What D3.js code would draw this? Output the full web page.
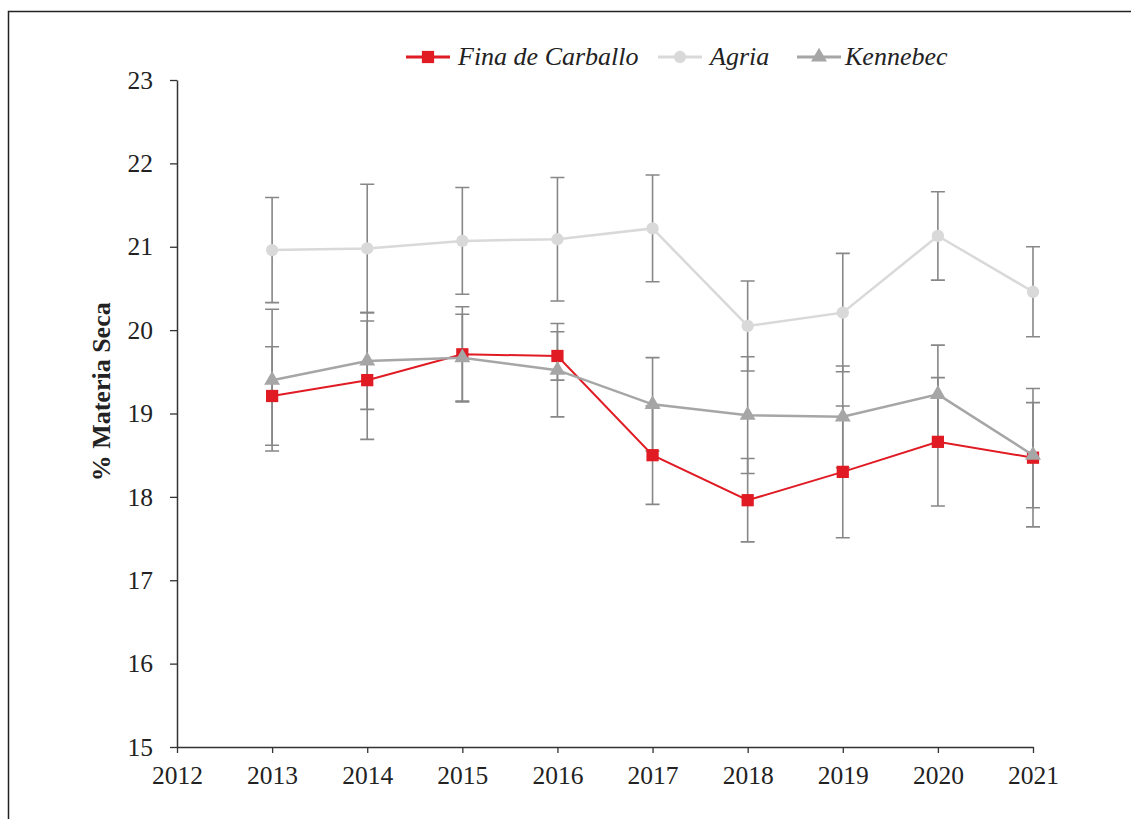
<!DOCTYPE html>
<html>
<head>
<meta charset="utf-8">
<script src="https://cdn.jsdelivr.net/npm/d3@7"></script>
<style>
  body { margin: 0; background: #fff; }
  svg text { font-family: "Liberation Serif", "Times New Roman", serif; fill: #222; }
</style>
</head>
<body>
<div id="chart"></div>
<script>
// years and tick labels
const years = [2013, 2014, 2015, 2016, 2017, 2018, 2019, 2020, 2021];
const xTicks = [2012, 2013, 2014, 2015, 2016, 2017, 2018, 2019, 2020, 2021];
const yTicks = [15, 16, 17, 18, 19, 20, 21, 22, 23];

// % materia seca, mean and sd
const finaMean = [19.21, 19.40, 19.71, 19.69, 18.50, 17.96, 18.30, 18.66, 18.47];
const finaSd   = [0.59, 0.71, 0.57, 0.29, 0.59, 0.50, 0.79, 0.77, 0.83];
const agriaMean = [20.96, 20.98, 21.07, 21.09, 21.22, 20.05, 20.21, 21.13, 20.46];
const agriaSd   = [0.63, 0.77, 0.64, 0.74, 0.64, 0.54, 0.71, 0.53, 0.54];
const kenMean = [19.40, 19.63, 19.67, 19.52, 19.11, 18.98, 18.96, 19.23, 18.50];
const kenSd   = [0.85, 0.58, 0.52, 0.56, 0.56, 0.70, 0.61, 0.59, 0.63];

const series = [
  { name: "Fina de Carballo", mean: finaMean, sd: finaSd, color: "#e01b24", width: 2, shape: d3.symbolSquare, size: 150 },
  { name: "Agria", mean: agriaMean, sd: agriaSd, color: "#d9d9d9", width: 2.5, shape: d3.symbolCircle, size: 120 },
  { name: "Kennebec", mean: kenMean, sd: kenSd, color: "#a6a6a6", width: 2.5, shape: d3.symbolTriangle, size: 110 }
];

const W = 1131, H = 819;
const margin = { top: 80, right: 98, bottom: 72, left: 177 };

const svg = d3.select("#chart").append("svg")
  .attr("width", W).attr("height", H);

// frame (left + top only)
svg.append("path")
  .attr("d", `M8.5,${H} V11.5 H${W}`)
  .attr("fill", "none").attr("stroke", "#222").attr("stroke-width", 1.5);

const x = d3.scaleLinear().domain([2012, 2021]).range([margin.left, W - margin.right]);
const y = d3.scaleLinear().domain([15, 23]).range([H - margin.bottom, margin.top]);

// axes
const xAxis = svg.append("g")
  .attr("transform", `translate(0,${y(15)})`)
  .call(d3.axisBottom(x).tickValues(xTicks).tickFormat(d3.format("d")).tickSizeInner(6).tickSizeOuter(0));
xAxis.selectAll("text").attr("font-size", 25.5).attr("dy", "1.1em");

const yAxis = svg.append("g")
  .attr("transform", `translate(${x(2012)},0)`)
  .call(d3.axisLeft(y).tickValues(yTicks).tickSizeInner(7).tickSizeOuter(0).tickPadding(17));
yAxis.selectAll("text").attr("font-size", 25.5);

[xAxis, yAxis].forEach(a => {
  a.select(".domain").attr("stroke", "#333").attr("stroke-width", 1.5);
  a.selectAll(".tick line").attr("stroke", "#333").attr("stroke-width", 1.3);
  a.selectAll("text").attr("fill", "#333").attr("font-family", "Liberation Serif, serif");
});

svg.append("text")
  .attr("transform", `translate(110,${y(19.26)}) rotate(-90)`)
  .attr("text-anchor", "middle")
  .attr("font-size", 26).attr("font-weight", "bold")
  .text("% Materia Seca");

// error bars, under the lines
const capW = 7;
series.forEach(s => {
  const g = svg.append("g");
  years.forEach((yr, i) => {
    const cx = x(yr), top = y(s.mean[i] + s.sd[i]), bot = y(s.mean[i] - s.sd[i]);
    g.append("path")
      .attr("d", `M${cx},${top} V${bot} M${cx - capW},${top} H${cx + capW} M${cx - capW},${bot} H${cx + capW}`)
      .attr("fill", "none").attr("stroke", "#878787").attr("stroke-width", 1.6);
  });
});

const line = d3.line().x((d, i) => x(years[i])).y(d => y(d));

series.forEach(s => {
  svg.append("path")
    .datum(s.mean)
    .attr("d", line)
    .attr("fill", "none").attr("stroke", s.color).attr("stroke-width", s.width);
  svg.selectAll(null).data(s.mean).enter().append("path")
    .attr("transform", (d, i) => `translate(${x(years[i])},${y(d)})`)
    .attr("d", d3.symbol().type(s.shape).size(s.size))
    .attr("fill", s.color);
});

// legend
const legendX = [406, 658, 797];
series.forEach((s, i) => {
  const g = svg.append("g").attr("transform", `translate(${legendX[i]},57)`);
  g.append("line").attr("x1", 0).attr("x2", 44).attr("y1", 0).attr("y2", 0)
    .attr("stroke", s.color).attr("stroke-width", 3);
  g.append("path").attr("transform", "translate(22,0)")
    .attr("d", d3.symbol().type(s.shape).size(s.size)).attr("fill", s.color);
  g.append("text").attr("x", i === 2 ? 48 : 52).attr("y", 8)
    .attr("font-size", 26).attr("font-style", "italic")
    .text(s.name);
});
</script>
</body>
</html>
